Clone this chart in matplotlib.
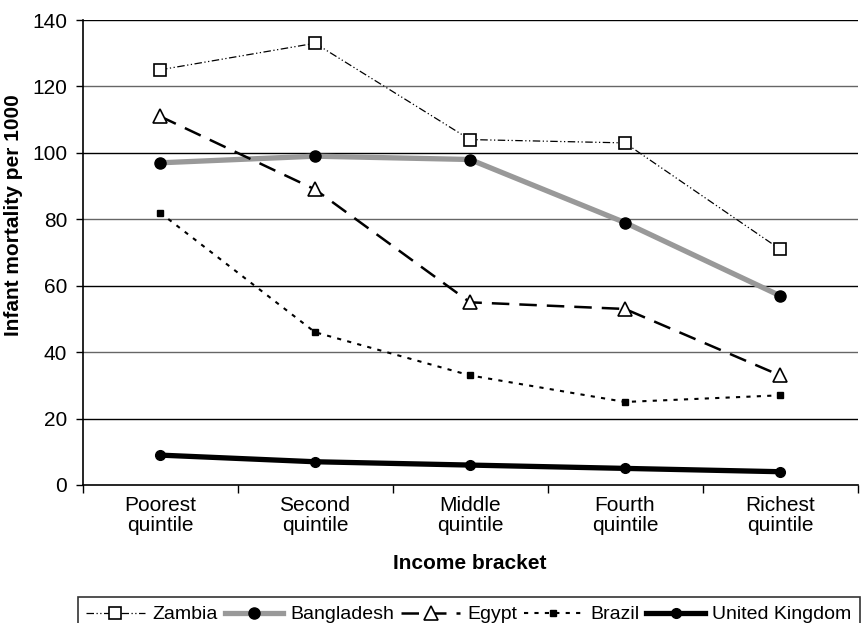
import matplotlib
matplotlib.use("Agg")
import matplotlib.pyplot as plt

plt.rcParams['font.family'] = ['Liberation Sans', 'DejaVu Sans']

categories = ["Poorest\nquintile", "Second\nquintile", "Middle\nquintile", "Fourth\nquintile", "Richest\nquintile"]
zambia = [125, 133, 104, 103, 71]
bangladesh = [97, 99, 98, 79, 57]
egypt = [111, 89, 55, 53, 33]
brazil = [82, 46, 33, 25, 27]
uk = [9, 7, 6, 5, 4]

fig = plt.figure(figsize=(8.64, 6.23), dpi=100)
ax = fig.add_axes([82.5/864, 1-485/623, 775/864, 465/623])

x = list(range(len(categories)))

ax.plot(x, zambia, color='black', lw=0.9, linestyle=(0, (6, 2, 1, 2, 1, 2)),
        marker='s', ms=8, mfc='white', mec='black', mew=1.2, label='Zambia', zorder=4)
ax.plot(x, bangladesh, color='#999999', lw=3.8, marker='o', ms=8, mfc='black', mec='black',
        label='Bangladesh', zorder=3)
ax.plot(x, egypt, color='black', lw=1.8, linestyle=(0, (7, 4)), marker='^', ms=10,
        mfc='white', mec='black', mew=1.2, label='Egypt', zorder=4)
ax.plot(x, brazil, color='black', lw=1.5, linestyle=(0, (2, 3)), marker='s', ms=4,
        mfc='black', mec='black', label='Brazil', zorder=4)
ax.plot(x, uk, color='black', lw=3.8, marker='o', ms=7, mfc='black', mec='black',
        label='United Kingdom', zorder=4)

ax.set_xlim(-0.5, 4.5)
ax.set_ylim(0, 140)
ax.set_yticks(range(0, 141, 20))
ax.set_xticks(x)
ax.set_xticklabels(categories, fontsize=15, linespacing=1.05)
ax.tick_params(axis='x', length=0, pad=8)
ax.set_xticks([i + 0.5 for i in range(-1, 5)], minor=True)
ax.tick_params(axis='x', which='minor', length=6, width=1, direction='out')
ax.tick_params(axis='y', labelsize=15, length=5, width=1, direction='out', pad=6)

for i, yv in enumerate(range(20, 141, 20)):
    ax.axhline(yv, color='black' if i % 2 == 0 else '#666666', lw=1, zorder=1)

for s in ['top', 'right']:
    ax.spines[s].set_visible(False)
ax.spines['left'].set_linewidth(1.2)
ax.spines['bottom'].set_linewidth(1.2)

ax.set_ylabel('Infant mortality per 1000', fontsize=15, fontweight='bold', va='center')
ax.yaxis.set_label_coords((14 - 82.5) / 775, (485 - 215) / 465)
ax.set_xlabel('Income bracket', fontsize=15, fontweight='bold', labelpad=14)

leg = fig.legend(loc='upper center', bbox_to_anchor=(469/864, 1 - 597/623), ncol=5,
                 fontsize=14, frameon=True, fancybox=False, edgecolor='black',
                 handlelength=3, handletextpad=0.4, columnspacing=0.35,
                 borderpad=0.45, borderaxespad=0)
leg.get_frame().set_linewidth(1.2)

fig.savefig('out.png', dpi=100)
